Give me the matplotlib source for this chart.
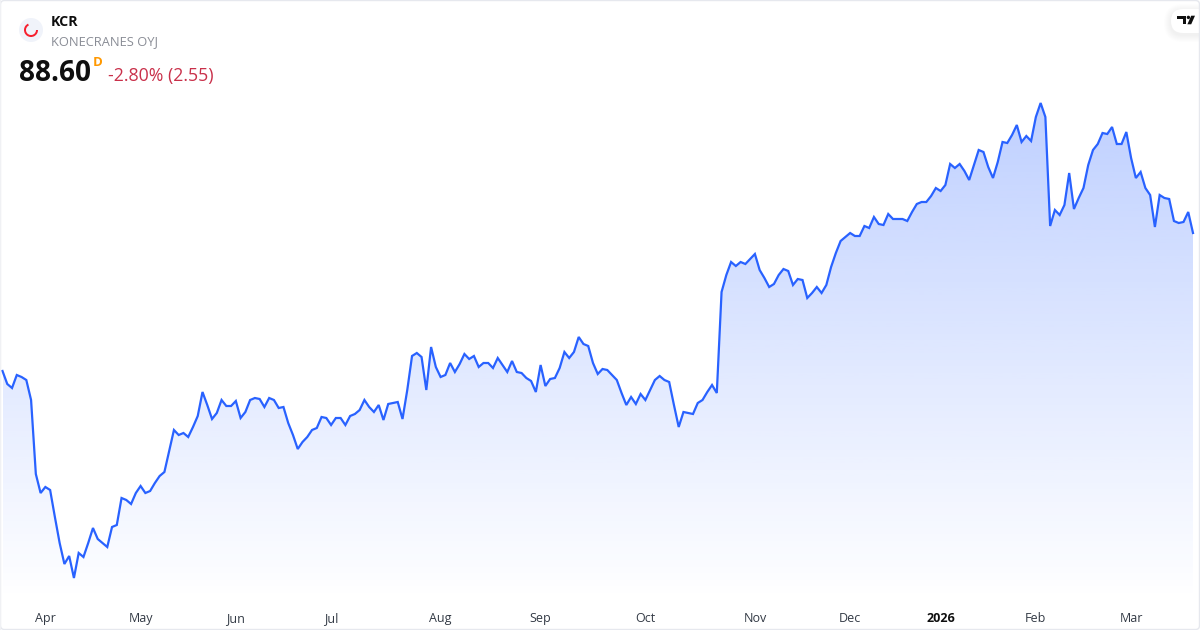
import matplotlib
matplotlib.use('AGG')
import numpy as np
import matplotlib.pyplot as plt
import matplotlib.colors as mpc
from matplotlib.patches import Circle, FancyBboxPatch, Polygon, Rectangle, Wedge

plt.rcParams['font.family'] = ['Open Sans', 'DejaVu Sans']

# daily closes
close_spring = [74.8, 73.5, 73.1, 74.4, 74.2, 73.9, 71.9, 64.5, 62.6, 63.2, 62.9, 60.2, 57.6, 55.5, 56.3, 54.1,
                56.6, 56.2, 57.6, 59.1, 58.0, 57.6, 57.2, 59.2, 59.4, 62.1, 61.9, 61.5, 62.6, 63.3, 62.6, 62.8,
                63.6, 64.3, 64.7, 66.8, 68.9, 68.4, 68.6, 68.2, 69.2, 70.3, 72.7, 71.4, 70.0, 70.6, 71.9, 71.3,
                71.3, 71.8, 70.1, 70.7, 71.9, 72.1, 72.0, 71.2, 72.1, 71.9, 71.1, 71.2, 69.6, 68.4, 67.0]
close_summer = [67.7, 68.2, 68.9, 69.1, 70.2, 70.1, 69.4, 70.1, 70.1, 69.4, 70.3, 70.5, 70.9, 71.9, 71.2, 70.7,
                71.4, 69.9, 71.5, 71.6, 71.7, 70.0, 72.9, 76.3, 76.6, 76.2, 72.9, 77.2, 75.2, 74.2, 74.4, 75.6,
                74.7, 75.5, 76.5, 76.0, 76.3, 75.2, 75.6, 75.6, 75.1, 76.1, 75.4, 74.7, 75.8, 74.7, 74.6, 74.1,
                73.8, 72.7, 75.4, 73.3, 74.0, 74.1, 75.1, 76.7, 76.1, 76.7, 78.2, 77.5, 77.3, 75.6, 74.5]
close_autumn = [75.0, 74.9, 74.4, 73.9, 72.6, 71.4, 72.2, 71.5, 72.5, 71.9, 72.9, 73.9, 74.3, 73.9, 73.7, 71.4,
                69.2, 70.7, 70.6, 70.5, 71.6, 71.9, 72.7, 73.4, 72.6, 82.7, 84.4, 85.7, 85.3, 85.7, 85.5, 86.0,
                86.5, 84.9, 84.1, 83.2, 83.5, 84.4, 85.0, 84.8, 83.4, 84.0, 83.9, 82.1, 82.6, 83.2, 82.6, 83.4,
                85.2, 86.6, 87.8, 88.2, 88.6, 88.3, 88.3, 89.3, 89.1, 90.2, 89.5]
close_winter = [89.4, 90.5, 90.0, 90.0, 90.0, 89.8, 90.7, 91.5, 91.7, 91.7, 92.3, 93.1, 92.8, 93.4, 95.5, 95.1,
                95.5, 94.8, 93.9, 95.4, 96.9, 96.7, 95.2, 94.1, 95.7, 97.7, 97.6, 98.4, 99.4, 97.7, 98.3, 97.8,
                100.2, 101.6, 100.2, 89.3, 90.9, 90.4, 91.4, 94.6, 91.0, 92.1, 93.1, 95.4, 96.9, 97.5, 98.6, 98.5,
                99.2, 97.5, 97.5, 98.7, 96.1, 94.1, 94.7, 93.1, 92.4, 89.2, 92.4, 92.1, 92.0, 89.8, 89.6, 89.7,
                90.7, 88.6]
closes = np.array(close_spring + close_summer + close_autumn + close_winter)
days = np.arange(len(closes))

tick_days = [9, 29, 49, 69, 92, 113, 135, 158, 178, 197, 217, 237]
tick_labels = ['Apr', 'May', 'Jun', 'Jul', 'Aug', 'Sep', 'Oct', 'Nov', 'Dec', '2026', 'Feb', 'Mar']

BLUE = '#2962ff'
RED = '#c9304a'
INK = '#0f0f0f'

fig = plt.figure(figsize=(12, 6.3), dpi=100, facecolor='white')

# plot area goes down to y=600 px, 10 px of price per unit
ax = fig.add_axes([0, 30 / 630, 1, 600 / 630])
ax.set_facecolor('none')
for s in ax.spines.values():
    s.set_visible(False)
ax.set_yticks([])
ax.set_xticks(tick_days)
ax.set_xticklabels(tick_labels, fontsize=9, color='#333a45', va='baseline')
ax.tick_params(axis='x', length=0, pad=15.8)
ax.get_xticklabels()[9].set_fontweight('bold')
ax.get_xticklabels()[9].set_color(INK)

# gradient under the line
top = closes.max()
rgba = np.zeros((256, 1, 4))
rgba[..., :3] = mpc.to_rgb(BLUE)
rgba[..., 3] = np.linspace(0.3, 0, 256)[:, None]
img = ax.imshow(rgba, aspect='auto', extent=(days[0], days[-1], 51.9, top), zorder=1, interpolation='bilinear')
fill = ax.fill_between(days, closes, 51.9, facecolor='none', edgecolor='none')
img.set_clip_path(fill.get_paths()[0], transform=ax.transData)
ax.set_xlim(-2.5 / 4.762, (1200 - 2.5) / 4.762)
ax.set_ylim(51.9, 111.9)

ax.plot(days, closes, color=BLUE, lw=1.6, zorder=2, solid_joinstyle='miter')

# header, logo, card frame: drawn in pixel coords
over = fig.add_axes([0, 0, 1, 1], facecolor='none')
over.set_xlim(0, 1200)
over.set_ylim(630, 0)
over.axis('off')

over.add_patch(Circle((31, 30), 12, fc='#f0f3fa', ec='none'))
over.add_patch(Wedge((31, 30), 7, 0, 245, width=2, fc='#f7202f', ec='none'))

over.text(51, 26, 'KCR', fontsize=10.2, fontweight='bold', color=INK, va='baseline')
over.text(51, 45, 'KONECRANES OYJ', fontsize=9.25, color='#8a8d96', va='baseline')
over.text(19, 81, '88.60', fontsize=20.2, fontweight='bold', color=INK, va='baseline')
over.text(93, 66.5, 'D', fontsize=9.5, fontweight='bold', color='#ff9800', va='baseline')
over.text(108, 81, '-2.80% (2.55)', fontsize=12.8, color=RED, va='baseline')

# tv badge with soft shadow
for grow in [7, 6, 5, 4, 3, 2, 1]:
    over.add_patch(FancyBboxPatch((1171 - grow, 9 - grow + 2), 60 + 2 * grow, 24 + 2 * grow,
                                  boxstyle='round,pad=0,rounding_size=%d' % (12 + grow),
                                  fc='black', ec='none', alpha=0.006))
over.add_patch(FancyBboxPatch((1171, 9), 60, 24, boxstyle='round,pad=0,rounding_size=12', fc='white', ec='none'))
over.add_patch(Polygon([(1177.3, 15.7), (1186, 15.7), (1186, 24.3), (1182.7, 24.3), (1182.7, 19), (1177.3, 19)],
                       fc=INK, ec='none'))
over.add_patch(Circle((1188.4, 17.4), 1.7, fc=INK, ec='none'))
over.add_patch(Polygon([(1191.2, 15.7), (1195, 15.7), (1191.2, 24.3), (1187.4, 24.3)], fc=INK, ec='none'))

over.add_patch(FancyBboxPatch((0.5, 0.5), 1199, 629, boxstyle='round,pad=0,rounding_size=4',
                              fc='none', ec='#e6e8ee', lw=1))
over.add_patch(Rectangle((0, 0), 1.2, 630, fc='#f0f1f4', ec='none'))

fig.savefig('out.png', dpi=100)
